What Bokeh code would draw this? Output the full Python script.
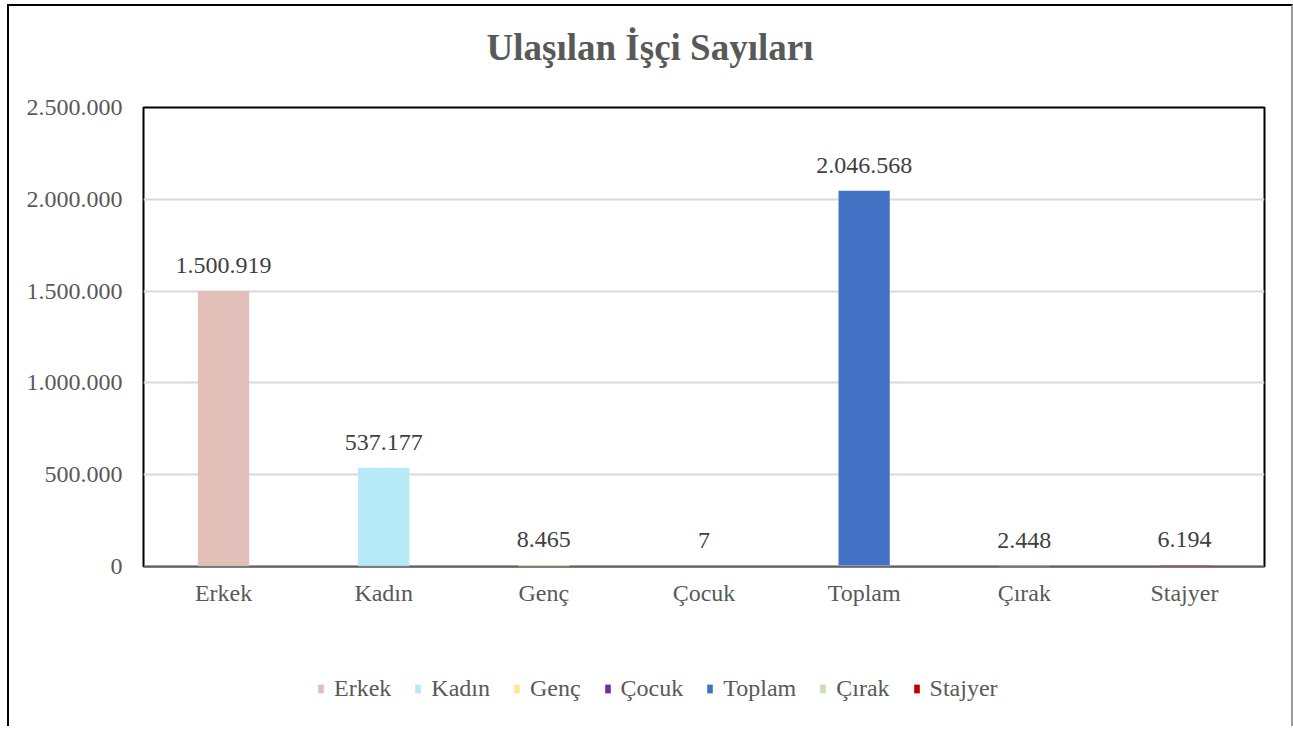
from bokeh.plotting import figure
from bokeh.layouts import column
from bokeh.models import ColumnDataSource, CustomJSTickFormatter, FixedTicker, Legend, LegendItem, Span, LabelSet, Div
from bokeh.core.properties import value
from bokeh.embed import file_html
from bokeh.resources import INLINE

title_text = "Ulaşılan İşçi Sayıları"
categories = ["Erkek", "Kadın", "Genç", "Çocuk", "Toplam", "Çırak", "Stajyer"]
values = [1500919, 537177, 8465, 7, 2046568, 2448, 6194]
colors = ["#e2bfb8", "#b5eaf6", "#ffe699", "#7030a0", "#4472c4", "#c5e0b4", "#c00000"]
y_ticks = [0, 500000, 1000000, 1500000, 2000000, 2500000]

FONT = "Liberation Serif"

def fmt(v):
    return f"{v:,}".replace(",", ".")

src = ColumnDataSource(dict(cat=categories, val=values, color=colors,
                            label=[fmt(v) for v in values]))

W = 1282
title = Div(text=title_text, width=W, height=70, margin=0,
            styles={"font-family": FONT, "font-size": "37px", "font-weight": "bold",
                    "color": "#595959", "text-align": "center", "line-height": "84px",
                    "white-space": "nowrap"})

p = figure(x_range=categories, y_range=(0, 2500000), width=W, height=550,
           output_backend="svg", toolbar_location=None,
           min_border_left=134, min_border_right=27, min_border_top=31, min_border_bottom=60)

r = p.vbar(x="cat", top="val", width=0.32, source=src, fill_color="color", line_color=None)

labels = LabelSet(x="cat", y="val", text="label", source=src, y_offset=18,
                  text_align="center", text_baseline="bottom", text_font=value(FONT),
                  text_font_size="24px", text_color="#404040")
p.add_layout(labels)

p.add_layout(Span(location=0, dimension="width", line_color="#bfbfbf", line_width=2))

p.outline_line_color = "black"
p.outline_line_width = 2
p.xgrid.grid_line_color = None
p.ygrid.grid_line_color = "#d9d9d9"
p.ygrid.grid_line_width = 2
p.yaxis.ticker = FixedTicker(ticks=y_ticks)
p.yaxis.formatter = CustomJSTickFormatter(code="return Math.round(tick).toString().replace(/\\B(?=(\\d{3})+(?!\\d))/g, '.');")
for ax in (p.xaxis[0], p.yaxis[0]):
    ax.axis_line_color = None
    ax.major_tick_line_color = None
    ax.minor_tick_line_color = None
    ax.major_label_text_font = FONT
    ax.major_label_text_font_size = "24px"
    ax.major_label_text_color = "#595959"
p.yaxis.major_label_standoff = 15
p.xaxis.major_label_standoff = 7

# legend strip below the chart (its bars fall outside its own range, only the legend shows)
pl = figure(x_range=["legend"], y_range=(-10, -5), width=W, height=100,
            output_backend="svg", toolbar_location=None, x_axis_type=None, y_axis_type=None,
            min_border_left=0, min_border_right=0, min_border_top=24, min_border_bottom=0)
pl.outline_line_color = None
pl.grid.grid_line_color = None
rl = pl.vbar(x="cat", top="val", bottom="val", width=0.32, source=src,
             fill_color="color", line_color=None)
items = [LegendItem(label=c, renderers=[rl], index=i) for i, c in enumerate(categories)]
legend = Legend(items=items, orientation="horizontal", location=(174, 24),
                label_text_font=FONT, label_text_font_size="24px", label_text_color="#595959",
                glyph_width=7, glyph_height=11, label_standoff=10, spacing=23,
                border_line_color=None, background_fill_alpha=0, margin=0, padding=0)
pl.add_layout(legend)

layout = column(title, p, pl, spacing=0, margin=(4, 0, 0, 7),
                styles={"border-left": "2px solid black", "border-top": "2px solid black",
                        "border-right": "2px solid #9a9a9a"})

open("out.html", "w").write(file_html(layout, INLINE))
